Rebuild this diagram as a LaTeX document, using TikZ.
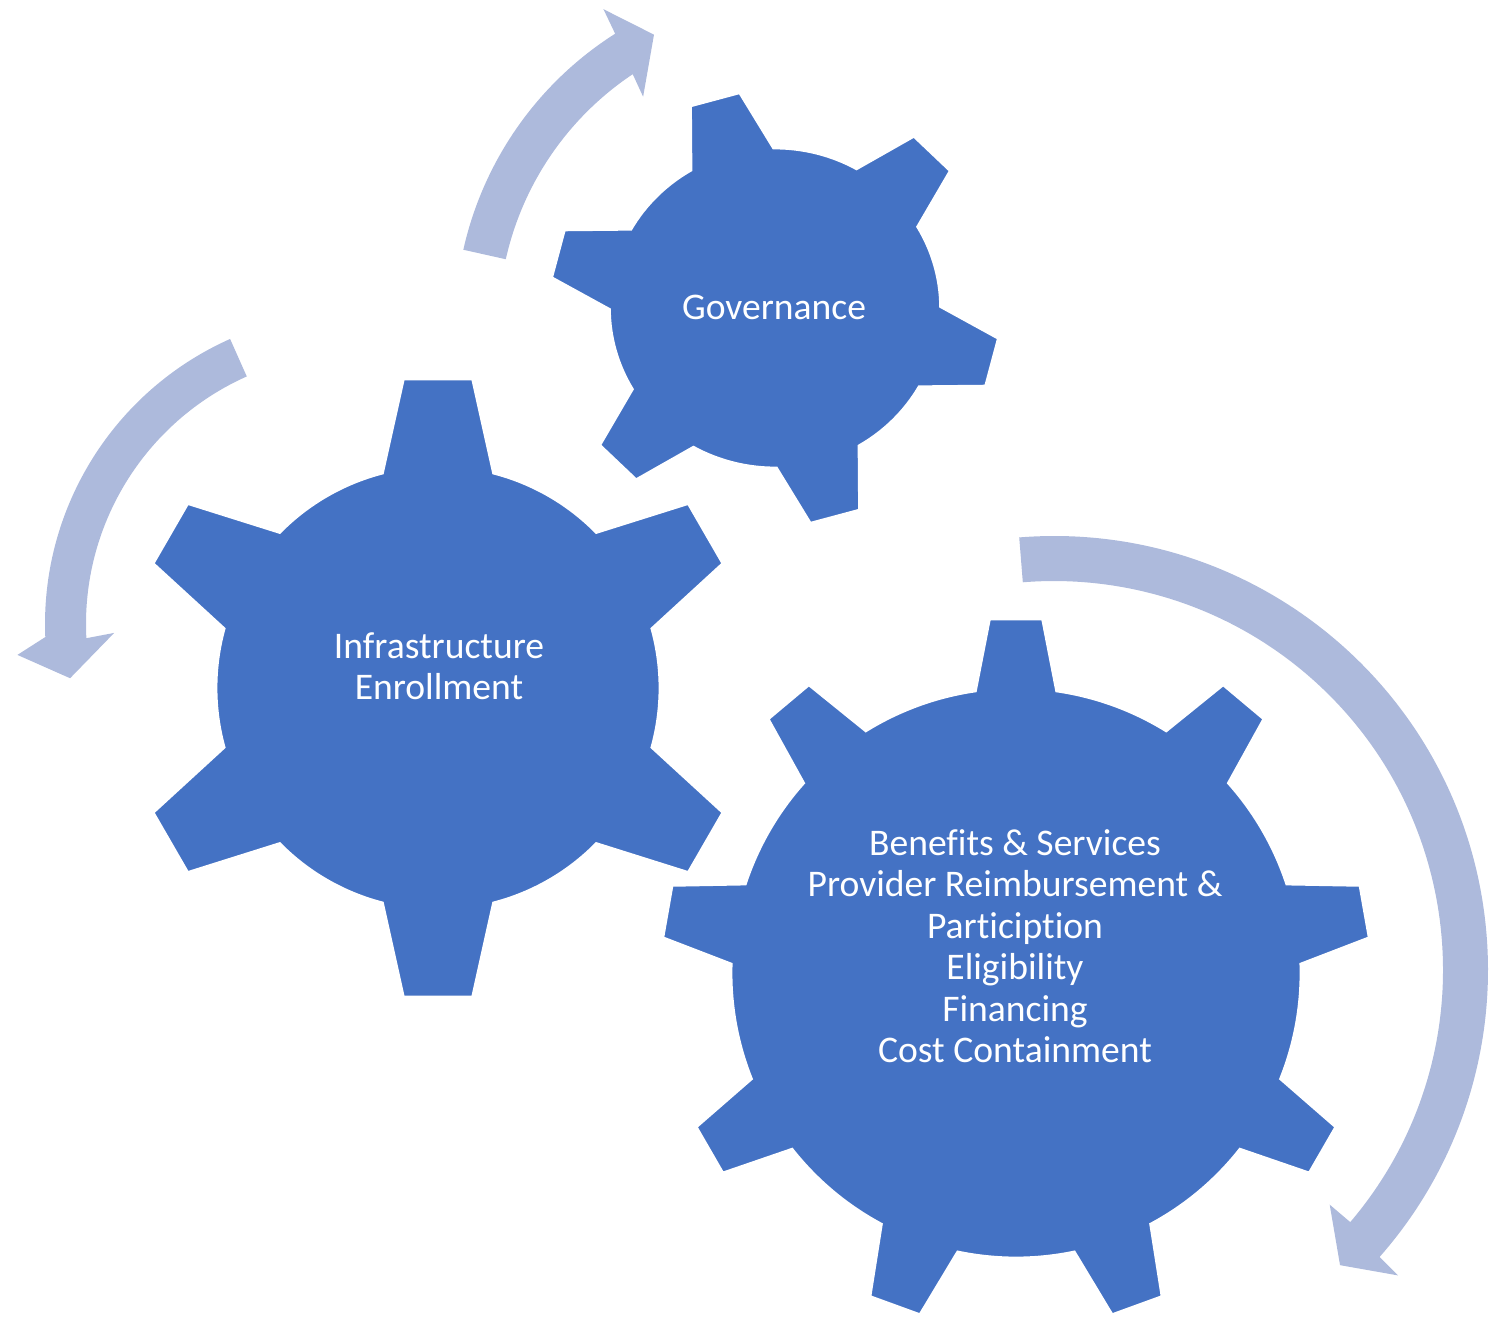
\documentclass[tikz,border=0pt]{standalone}
\usepackage{fontspec}
\setmainfont{Carlito}[Ligatures=NoCommon]
\usepackage{tikz}
\usepackage{xcolor}

\definecolor{gearblue}{RGB}{68,114,196}
\definecolor{arrowblue}{RGB}{173,186,220}
\tikzset{
    gear/.style={fill=gearblue,draw=white,line width=0.8pt,line join=miter},
    cycarrow/.style={fill=arrowblue},
    gearlabel/.style={text=white,align=center,inner sep=0pt,font=\fontsize{10.7}{11.8}\selectfont},
}
% [xscale] centre, teeth, offset, inner r, outer r, base half angle, tip half angle
\newcommand{\drawgear}[8][1]{%
    \begin{scope}[shift={(#2)},xscale=#1]
        \filldraw[gear] ({#4-#7}:#5)
        \foreach \k [evaluate=\k as \ta using {#4+(\k-1)*360/#3},
                     evaluate=\k as \tb using {#4+\k*360/#3}] in {1,...,#3} {
            -- ({\ta-#8}:#6) -- ({\ta+#8}:#6) -- ({\ta+#7}:#5)
            arc[start angle=\ta+#7,end angle=\tb-#7,radius=#5]
        } -- cycle;
    \end{scope}}

\begin{document}
\begin{tikzpicture}[x=0.1mm,y=0.1mm]
    \useasboundingbox (0,0) rectangle (1498,1317);
    \coordinate (g1) at (775,1009);
    \coordinate (g2) at (438,629);
    \coordinate (g3) at (1016,344);
    % circular arrows
    \begin{scope}[shift={(800,992)}]
        \fill[cycarrow] (167.4:345) arc[start angle=167.4,end angle=122.4,radius=345]
        -- (121.9:372) -- (116.7:325) -- (124.5:277) -- (123.7:301.5)
        arc[start angle=123.7,end angle=167.4,radius=301.5] -- cycle;
    \end{scope}
    \begin{scope}[shift={(357,693)}]
        \fill[cycarrow] (114:312) arc[start angle=114,end angle=182.4,radius=312]
        -- (185.2:341) -- (190.7:292) -- (182.1:243) -- (183:271)
        arc[start angle=183,end angle=114,radius=271] -- cycle;
    \end{scope}
    \begin{scope}[shift={(1054,347)}]
        \fill[cycarrow] (94.6:434) arc[start angle=94.6,end angle=-41.4,radius=434]
        -- (-41.6:460) -- (-45.9:411) -- (-40.4:362) -- (-40.4:389)
        arc[start angle=-40.4,end angle=94.6,radius=389] -- cycle;
    \end{scope}
    % gears
    \drawgear[1.035]{g1}{6}{-14.5}{160}{218}{15}{6.5}
    \drawgear{g2}{6}{30}{222}{311}{14.5}{6.4}
    \drawgear{g3}{9}{10}{285}{355}{8.2}{4.3}
    \node[gearlabel] (gov) at (774,1010) {Governance};
    \node[gearlabel] (infra) at (439,651) {Infrastructure\\Enrollment};
    \node[gearlabel] (bens) at (1015,371) {Benefits \& Services\\Provider Reimbursement \&\\Particiption\\Eligibility\\Financing\\Cost Containment};
\end{tikzpicture}
\end{document}
